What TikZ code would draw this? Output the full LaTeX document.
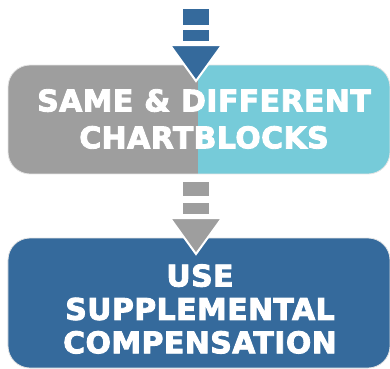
\documentclass[tikz,border=0pt]{standalone}
\usepackage{fontspec}
\newfontfamily\hv[LetterSpace=1.5, FakeBold=3]{DejaVu Sans Bold}
\definecolor{dblue}{RGB}{53,106,156}
\definecolor{mgray}{RGB}{158,158,158}
\definecolor{lblue}{RGB}{118,203,217}
\begin{document}
\begin{tikzpicture}[x=1bp,y=-1bp,
  box/.style={rectangle, rounded corners=22bp, draw=white!90!black, line width=0.8bp, inner sep=0},
  lbl/.style={text=white, align=center, font=\hv\fontsize{30}{#1}\selectfont},
  tri/.style={fill=#1, draw=white, line width=2bp, line join=miter}]
\useasboundingbox (0,0) rectangle (390,369);
% box 1 split colour
\node[box, minimum width=382bp, minimum height=109bp,
  path picture={\fill[mgray, sharp corners] (path picture bounding box.north west) rectangle ([xshift=-1bp]path picture bounding box.south);
                \fill[lblue, sharp corners] ([xshift=-1bp]path picture bounding box.north) rectangle (path picture bounding box.south east);}]
  (b1) at (199,119.5) {};
\node[lbl=37] (t1) at (204,119) {SAME \& DIFFERENT\\CHARTBLOCKS};
% box 2
\node[box, fill=dblue, minimum width=382bp, minimum height=130bp] (b2) at (199,303) {};
\node[lbl=33.5] (t2) at (200,309) {USE\\SUPPLEMENTAL\\COMPENSATION};
% arrow 1
\fill[dblue] (183,9) rectangle (209,25);
\fill[dblue] (183,30) rectangle (209,41);
\draw[tri=dblue] (170,45) -- (222,45) -- (196,81) -- cycle;
% arrow 2
\fill[mgray] (183,182) rectangle (209,196);
\fill[mgray] (183,203) rectangle (209,214);
\draw[tri=mgray] (170,218) -- (222,218) -- (196,254) -- cycle;
\end{tikzpicture}
\end{document}
